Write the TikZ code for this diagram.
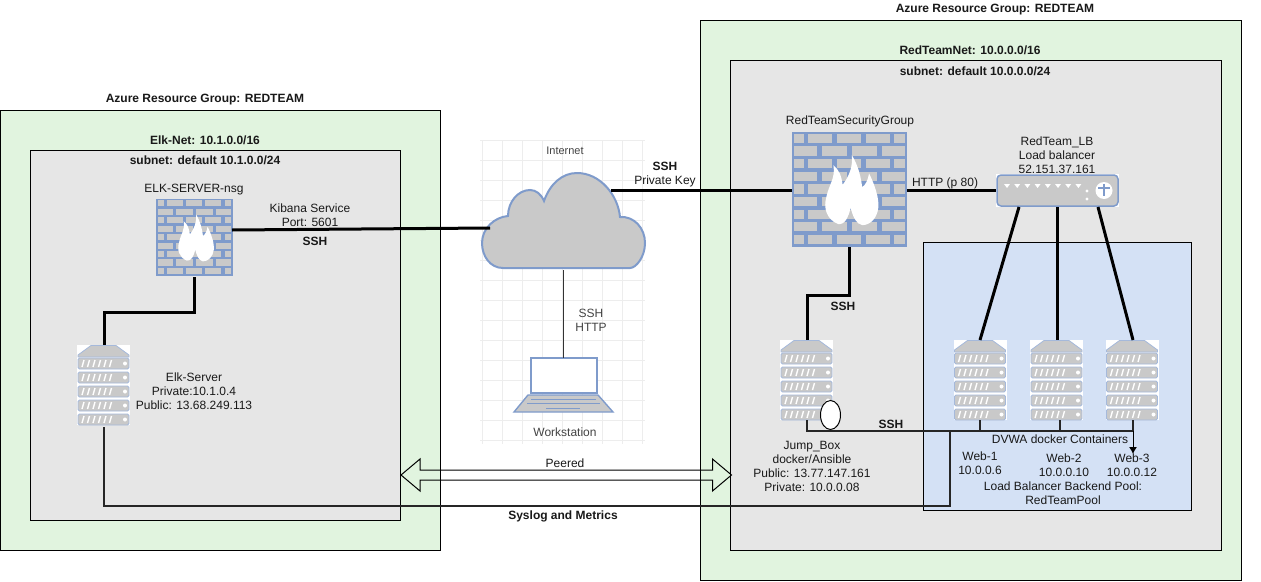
\documentclass[tikz,border=0pt]{standalone}
\usepackage{fontspec}
\setmainfont{Liberation Sans}
\usetikzlibrary{arrows.meta,calc,shapes.geometric}
\definecolor{grn}{HTML}{E1F4DF}
\definecolor{gry}{HTML}{E6E6E6}
\definecolor{blu}{HTML}{D4E1F5}
\definecolor{ico}{HTML}{7F9BCB}
\definecolor{slab}{HTML}{C9C9C9}
\definecolor{imgtxt}{HTML}{444444}
\tikzset{
  zone/.style={draw=black,line width=1pt,anchor=north west,inner sep=0pt},
  lbl/.style={inner sep=0pt,align=center,text=black!90,font=\fontsize{12}{14}\selectfont},
  blbl/.style={inner sep=0pt,align=center,text=black!90,font=\fontsize{12}{14}\selectfont\bfseries},
  imglbl/.style={lbl,text=imgtxt},
  iconbox/.style={inner sep=0pt,anchor=north west},
  link/.style={draw=black,line width=3pt},
  thinlink/.style={draw=black!85,line width=2pt},
}
\newcommand{\firewallicon}[3]{% x y size
  \begin{scope}[shift={(#1,#2)},x={#3/100*1pt},y={-#3/100*1pt}]
    \fill[ico] (0,0) rectangle (100,100);
    \foreach \r in {0,2,4,6,8}{
      \foreach \a/\b in {2/10,14/35,39/60,64/85,89/98}
        \fill[slab] (\a,{\r*11+1.5}) rectangle (\b,{\r*11+9.5});
    }
    \foreach \r in {1,3,5,7}{
      \foreach \a/\b in {2/22,26/48,52/74,78/98}
        \fill[slab] (\a,{\r*11+1.5}) rectangle (\b,{\r*11+9.5});
    }
    \fill[white] (40,80) .. controls (30,76) and (27,66) .. (30,56)
      .. controls (32,46) and (38,40) .. (36,29)
      .. controls (41,33) and (43,38) .. (44,46)
      .. controls (50,38) and (53,30) .. (52,20)
      .. controls (58,30) and (60,40) .. (61,48)
      .. controls (64,46) and (66,42) .. (67,36)
      .. controls (72,46) and (76,58) .. (75,66)
      .. controls (74,75) and (68,81) .. (61,81)
      .. controls (56,80) and (53,74) .. (51,66)
      .. controls (49,74) and (46,81) .. (40,80) -- cycle;
  \end{scope}}
\newcommand{\servericon}[2]{% x y
  \begin{scope}[shift={(#1,#2)}]
    \fill[white] (0,0) rectangle (53,80);
    \fill[slab,draw=ico!70,line width=.8pt] (14,0.5) -- (39,0.5) -- (52,10) -- (52,12) -- (1,12) -- (1,10) -- cycle;
    \foreach \i in {0,1,2,3,4}{
      \fill[slab,draw=ico!70,line width=.8pt,rounded corners=1.5pt] (1,{13+14*\i}) rectangle (52,{24+14*\i});
      \foreach \k in {0,...,5}
        \draw[white,line width=1.4pt] ({5+5.5*\k},{22+14*\i}) -- ({7+5.5*\k},{15+14*\i});
      \fill[white] (48,{18.5+14*\i}) circle (2);
    }
  \end{scope}}
\begin{document}
\begin{tikzpicture}[x=1pt,y=-1pt]
\useasboundingbox (0,0) rectangle (1261,581);
\fill[white] (0,0) rectangle (1261,581);
% zones
\node[zone,fill=grn,minimum width=440pt,minimum height=440pt] (elkgroup) at (0,110) {};
\node[zone,fill=gry,minimum width=370pt,minimum height=370pt] (elksubnet) at (30,150) {};
\node[zone,fill=grn,minimum width=541pt,minimum height=560pt] (redgroup) at (700,20) {};
\node[zone,fill=gry,minimum width=491pt,minimum height=490pt] (redsubnet) at (730,60) {};
\node[zone,fill=blu,minimum width=268pt,minimum height=268pt] (pool) at (923,242) {};
% internet image
\begin{scope}
  \fill[white] (480,140) rectangle (645,444);
  \foreach \g in {0,...,8} \draw[black!7,line width=.6pt] ({482+20*\g},140) -- ({482+20*\g},444);
  \foreach \g in {0,...,15} \draw[black!7,line width=.6pt] (480,{140+20*\g}) -- (645,{140+20*\g});
\end{scope}
\draw[ico,fill=slab,line width=2pt] (503,268) .. controls (490,268) and (482,256) .. (482,243)
  .. controls (482,228) and (495,217) .. (508,216)
  .. controls (508,202) and (518,190) .. (530,190)
  .. controls (536,190) and (541,194) .. (544,201)
  .. controls (550,184) and (562,173) .. (577,173)
  .. controls (600,173) and (618,195) .. (620,217)
  .. controls (634,216) and (645,228) .. (645,243)
  .. controls (645,257) and (636,268) .. (630,268) -- cycle;
\node[inner sep=0pt,minimum width=163pt,minimum height=98pt] (cloud) at (563.5,221) {};
\coordinate (cloudW) at (490,228);
\coordinate (cloudE) at (611,190);
% laptop
\draw[ico,fill=white,line width=1.6pt] (531,358) rectangle (597,393);
\draw[ico,fill=slab,line width=1.4pt] (528,395) -- (598,395) -- (613,412) -- (514,412) -- cycle;
\draw[ico,line width=.9pt] (531,399) -- (596,399) (527,403) -- (600,403) (546,408) -- (580,408);
\node[inner sep=0pt,minimum width=99pt,minimum height=54pt] (laptop) at (563.5,385) {};
% icons
\firewallicon{156}{199}{77}
\node[iconbox,minimum width=77pt,minimum height=78pt] (elkfw) at (156,199) {};
\firewallicon{792}{132}{115}
\node[iconbox,minimum width=115pt,minimum height=115pt] (redfw) at (792,132) {};
\servericon{77}{345}
\node[iconbox,minimum width=53pt,minimum height=80pt] (elksrv) at (77,345) {};
\servericon{780}{340}
\node[iconbox,minimum width=53pt,minimum height=80pt] (jump) at (780,340) {};
\servericon{953.5}{340}
\node[iconbox,minimum width=53pt,minimum height=80pt] (web1) at (953.5,340) {};
\servericon{1030}{340}
\node[iconbox,minimum width=53pt,minimum height=80pt] (web2) at (1030,340) {};
\servericon{1105.5}{340}
\node[iconbox,minimum width=53pt,minimum height=80pt] (web3) at (1105.5,340) {};
% load balancer
\fill[white] (996,174) rectangle (1119,207);
\draw[ico,fill=slab,line width=1.5pt,rounded corners=4pt] (997,175) rectangle (1118,206);
\foreach \k in {0,...,7} \fill[white] ({1004+10.2*\k},184) -- ({1010+10.2*\k},184) -- ({1007+10.2*\k},188) -- cycle;
\fill[white] (1087,191) circle (1.7) (1087,199) circle (1.7);
\fill[white] (1104,190.5) circle (8.5);
\draw[ico,line width=1.5pt] (1098,188) -- (1110,188) (1104,184) -- (1104,196);
\node[iconbox,minimum width=123pt,minimum height=33pt] (lb) at (996,174) {};
% junction coordinates
\coordinate (elkfwE) at (232,230);
\coordinate (redfwW) at (792,190);
\coordinate (redfwE) at (907,190);
\coordinate (lbW) at (996,190);
\coordinate (lbA) at (1019,207);
\coordinate (lbB) at (1057,207);
\coordinate (lbC) at (1098,207);
\coordinate (redfwS) at (849,247);
\coordinate (jumpN) at (807,340);
\coordinate (elkfwS) at (194,277);
\coordinate (elksrvN) at (104,345);
\coordinate (jumpS) at (807,420);
\coordinate (web1N) at (980,340);
\coordinate (web2N) at (1057,340);
\coordinate (web3N) at (1133,340);
\coordinate (web1S) at (980,420);
\coordinate (web2S) at (1060,420);
\coordinate (web3S) at (1133,420);
\coordinate (bus) at (950,430.5);
\coordinate (elksrvS) at (104,427);
\coordinate (web3end) at (1133,454);
\coordinate (cloudS) at (563.5,270);
\coordinate (laptopN) at (563.5,358);
% connectors
\draw[link] (elkfwE) -- (cloudW);
\draw[link] (cloudE) -- (redfwW);
\draw[link] (redfwE) -- (lbW);
\draw[link] (lbA) -- (web1N);
\draw[link] (lbB) -- (web2N);
\draw[link] (lbC) -- (web3N);
\draw[link] (redfwS) -- (849,295) -- (807,295) -- (jumpN);
\draw[link] (elkfwS) -- (194,312) -- (104,312) -- (elksrvN);
\draw[draw=black!80,line width=1.6pt] (cloudS) -- (laptopN);
\draw[thinlink] (jumpS) -- (807,430.5) -- (web3S |- bus);
\draw[thinlink] (web1S) -- (web1S |- bus);
\draw[thinlink] (web2S) -- (web2S |- bus);
\draw[thinlink] (web3S) -- (web3S |- bus);
\draw[draw=black,line width=1pt,-{Latex[length=7pt,width=8pt]}] (web3S |- bus) -- (web3end);
\draw[thinlink] (elksrvS) -- (104,505.5) -- (950,505.5) -- (bus);
% ellipse
\node[draw=black,fill=white,line width=1pt,ellipse,inner sep=0pt,minimum width=20pt,minimum height=29pt] (oval) at (830.5,415) {};
% peered arrow
\coordinate (peerL) at (401,475);
\coordinate (peerR) at (731.5,475);
\draw[black,line width=1pt,line join=miter] (peerL) -- (420,459) -- (420,470) -- (712.5,470) -- (712.5,459) -- (peerR) -- (712.5,491) -- (712.5,480) -- (420,480) -- (420,491) -- cycle;
% labels
\node[blbl] (t1) at (205,100) {Azure Resource Group: REDTEAM};
\node[blbl] (t2) at (205,140) {Elk-Net: 10.1.0.0/16};
\node[blbl] (t3) at (205,160) {subnet: default 10.1.0.0/24};
\node[lbl] (t4) at (194,190) {ELK-SERVER-nsg};
\node[lbl] (t5) at (310,215) {Kibana Service\\Port: 5601};
\node[blbl] (t6) at (315,241) {SSH};
\node[lbl] (t7) at (194,391) {Elk-Server\\Private:10.1.0.4\\Public: 13.68.249.113};
\node[imglbl,font=\fontsize{11}{14}\selectfont] (t8) at (565,151) {Internet};
\node[imglbl] (t9) at (565,432) {Workstation};
\node[imglbl] (t10) at (591,320) {SSH\\HTTP};
\node[blbl] (t11) at (665,166) {SSH};
\node[lbl] (t11b) at (665,181) {Private Key};
\node[blbl] (t12) at (995,10) {Azure Resource Group: REDTEAM};
\node[blbl] (t13) at (970,50) {RedTeamNet: 10.0.0.0/16};
\node[blbl] (t14) at (975,71) {subnet: default 10.0.0.0/24};
\node[lbl] (t15) at (850,121) {RedTeamSecurityGroup};
\node[lbl] (t16) at (1057,155) {RedTeam\_LB\\Load balancer\\52.151.37.161};
\node[lbl] (t17) at (945,183) {HTTP (p 80)};
\node[blbl] (t18) at (843,306) {SSH};
\node[blbl] (t19) at (891,424) {SSH};
\node[lbl] (t20) at (812,466) {Jump\_Box\\docker/Ansible\\Public: 13.77.147.161\\Private: 10.0.0.08};
\node[lbl] (t21) at (1060,439) {DVWA docker Containers};
\node[lbl] (t22) at (980,463) {Web-1\\10.0.0.6};
\node[lbl] (t23) at (1064,465) {Web-2\\10.0.0.10};
\node[lbl] (t24) at (1132,465) {Web-3\\10.0.0.12};
\node[lbl] (t25) at (1063,493) {Load Balancer Backend Pool:\\RedTeamPool};
\node[lbl] (t26) at (565,463) {Peered};
\node[blbl] (t27) at (563,516) {Syslog and Metrics};
\end{tikzpicture}
\end{document}
